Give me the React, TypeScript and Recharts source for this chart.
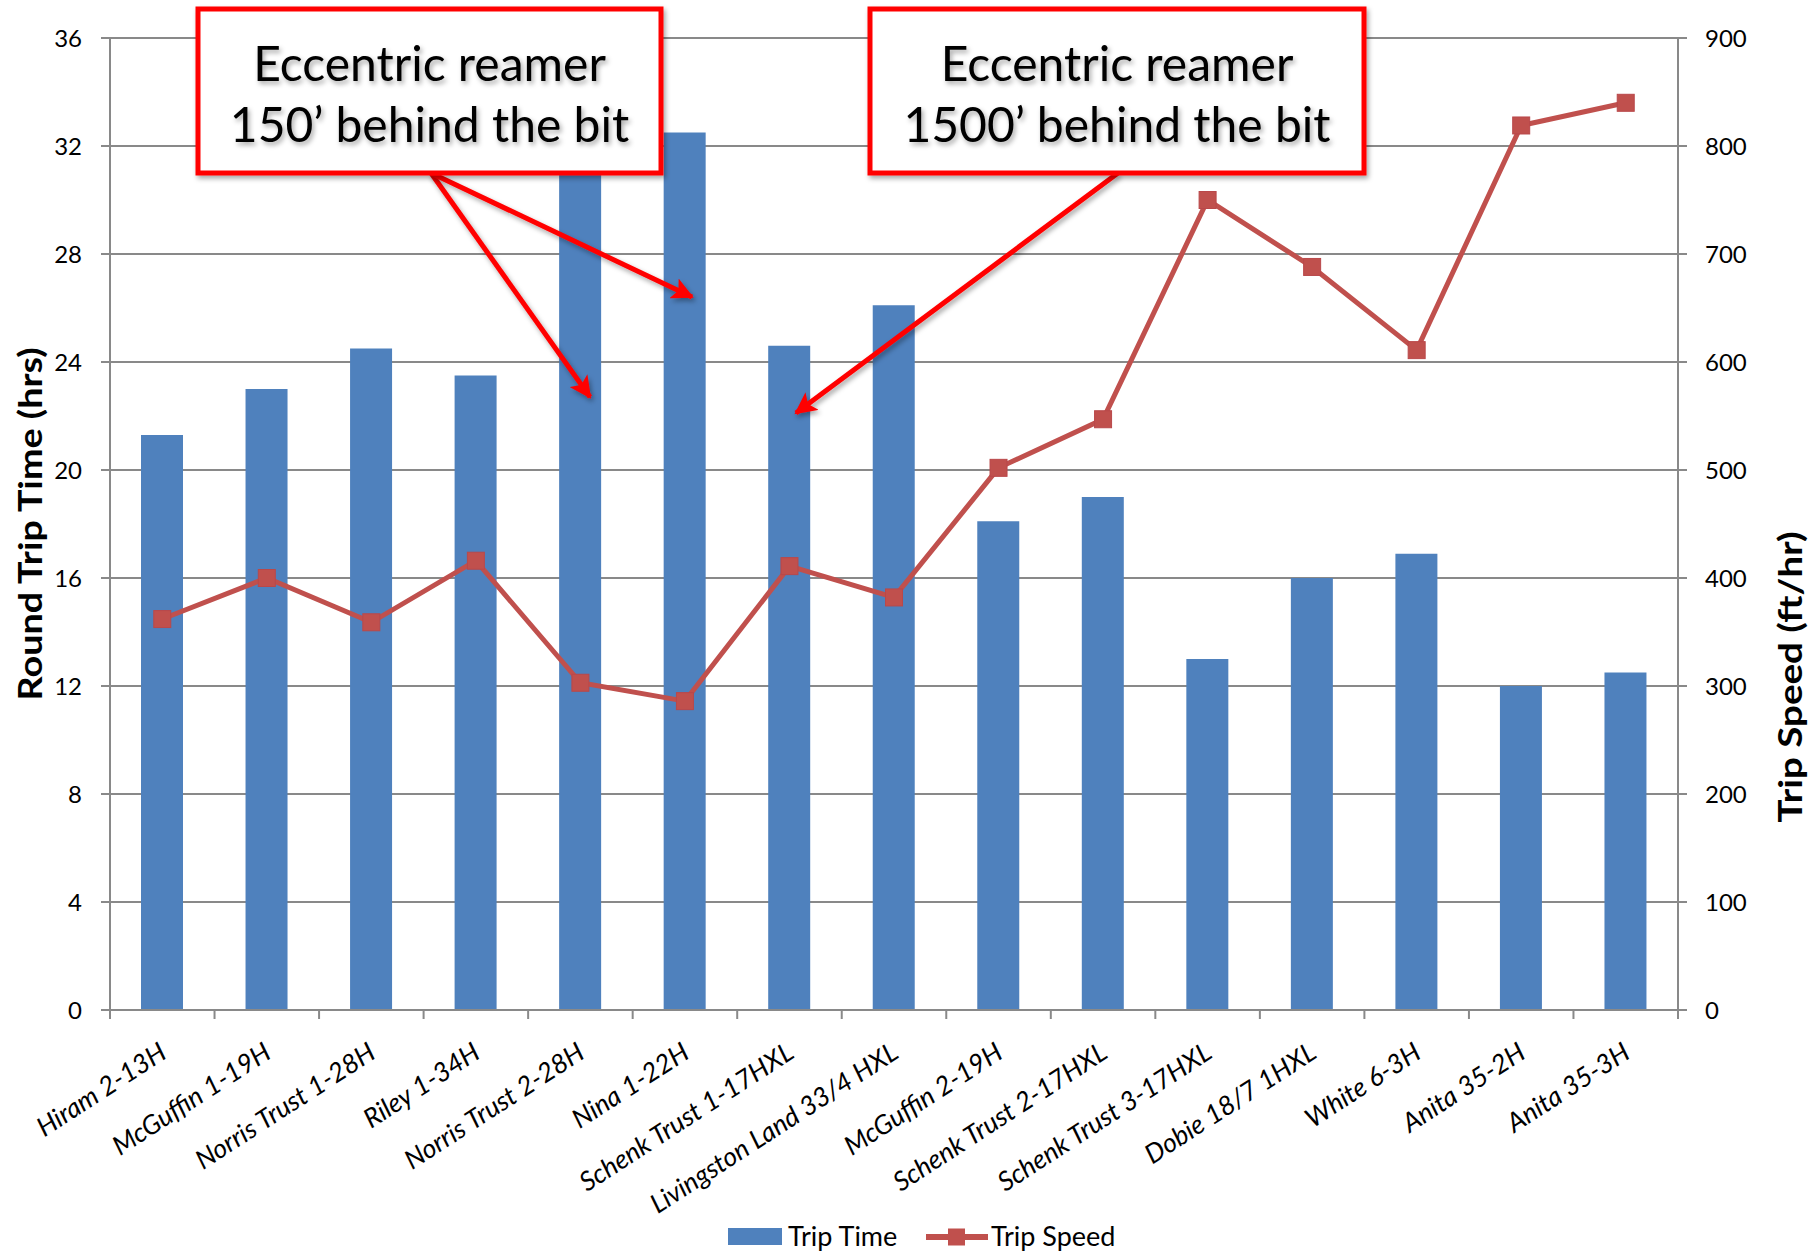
import React from 'react';
import {
  ComposedChart,
  Bar,
  Line,
  XAxis,
  YAxis,
  CartesianGrid,
  Legend
} from 'recharts';

// Well names along the category axis
const wells = [
  'Hiram 2-13H',
  'McGuffin 1-19H',
  'Norris Trust 1-28H',
  'Riley 1-34H',
  'Norris Trust 2-28H',
  'Nina 1-22H',
  'Schenk Trust 1-17HXL',
  'Livingston Land 33/4 HXL',
  'McGuffin 2-19H',
  'Schenk Trust 2-17HXL',
  'Schenk Trust 3-17HXL',
  'Dobie 18/7 1HXL',
  'White 6-3H',
  'Anita 35-2H',
  'Anita 35-3H'
];

// Round trip time, hours
const tripTime = [21.3, 23.0, 24.5, 23.5, 32.2, 32.5, 24.6, 26.1, 18.1, 19.0, 13.0, 16.0, 16.9, 12.0, 12.5];

// Trip speed, ft/hr
const tripSpeed = [362, 400, 359, 416, 303, 286, 411, 382, 502, 547, 750, 688, 611, 819, 840];

const timeTicks = [0, 4, 8, 12, 16, 20, 24, 28, 32, 36];
const speedTicks = [0, 100, 200, 300, 400, 500, 600, 700, 800, 900];

const data = wells.map((name, i) => ({ name, time: tripTime[i], speed: tripSpeed[i] }));

const W = 1817;
const H = 1251;
const TOP = 38;
const LEFT_W = 110;
const RIGHT_W = 139;
const PLOT_H = 972;
const LEGEND_H = 40;
const BAND = (W - LEFT_W - RIGHT_W) / wells.length;

const BLUE = '#4F81BD';
const RED = '#C0504D';
const AXIS = '#898989';
const FONT = 'Lato, "Open Sans", sans-serif';

const XTick = (props: any) => {
  const { x, y, payload, index } = props;
  const ax = x + 6;
  const ay = y + 47;
  return (
    <g>
      <line x1={x - BAND / 2} y1={y} x2={x - BAND / 2} y2={y + 9} stroke={AXIS} strokeWidth={2} />
      {index === wells.length - 1 && (
        <line x1={x + BAND / 2} y1={y} x2={x + BAND / 2} y2={y + 9} stroke={AXIS} strokeWidth={2} />
      )}
      <text
        x={ax}
        y={ay}
        textAnchor="end"
        transform={`rotate(-33 ${ax} ${ay})`}
        fontFamily={FONT}
        fontStyle="italic"
        fontSize={26.5}
        fill="#000"
      >
        {payload.value}
      </text>
    </g>
  );
};

const SquareDot = (props: any) => {
  const { cx, cy } = props;
  if (cx == null || cy == null) return null;
  return <rect x={cx - 8.5} y={cy - 8.5} width={17} height={17} fill={RED} stroke="#B9484A" strokeWidth={1} />;
};

const AxisTitle = ({ viewBox, text, dx, dy, length }: any) => {
  const cx = viewBox.x + dx;
  const cy = viewBox.y + dy;
  return (
    <text
      x={cx}
      y={cy}
      transform={`rotate(-90 ${cx} ${cy})`}
      textAnchor="middle"
      dominantBaseline="central"
      fontFamily={FONT}
      fontWeight={700}
      fontSize={33}
      textLength={length}
      lengthAdjust="spacingAndGlyphs"
      fill="#000"
    >
      {text}
    </text>
  );
};

const renderLegend = () => (
  <div style={{ position: 'relative', width: W, height: LEGEND_H, fontFamily: FONT, fontSize: 27 }}>
    <div style={{ position: 'absolute', left: 728, top: 17, width: 54, height: 17, background: BLUE }} />
    <span style={{ position: 'absolute', left: 788, top: 9, lineHeight: '32px' }}>Trip Time</span>
    <svg style={{ position: 'absolute', left: 926, top: 14 }} width={62} height={24}>
      <line x1={0} y1={12} x2={62} y2={12} stroke={RED} strokeWidth={6} />
      <rect x={22} y={3.5} width={17} height={17} fill={RED} />
    </svg>
    <span style={{ position: 'absolute', left: 991, top: 9, lineHeight: '32px' }}>Trip Speed</span>
  </div>
);

// Callout boxes and arrows drawn over the plot
const callouts = [
  { x: 198, y: 9, w: 463, h: 164, lines: ['Eccentric reamer', '150\u2019 behind the bit'] },
  { x: 870, y: 9, w: 494, h: 164, lines: ['Eccentric reamer', '1500\u2019 behind the bit'] }
];
const arrows = [
  { x1: 431, y1: 173, x2: 590, y2: 397 },
  { x1: 431, y1: 173, x2: 692, y2: 297 },
  { x1: 1118, y1: 173, x2: 796, y2: 413 }
];

const Overlay = () => (
  <svg width={W} height={H} style={{ position: 'absolute', left: 0, top: 0, pointerEvents: 'none' }}>
    <defs>
      <filter id="soft" x="-20%" y="-20%" width="140%" height="140%">
        <feDropShadow dx={2} dy={3} stdDeviation={2.5} floodColor="#000" floodOpacity={0.35} />
      </filter>
      <marker id="head" markerUnits="userSpaceOnUse" markerWidth={24} markerHeight={22} refX={20} refY={11} orient="auto">
        <path d="M0,0 L22,11 L0,22 L5,11 Z" fill="#FF0000" />
      </marker>
    </defs>
    {arrows.map((a, i) => (
      <line
        key={i}
        x1={a.x1}
        y1={a.y1}
        x2={a.x2}
        y2={a.y2}
        stroke="#FF0000"
        strokeWidth={5}
        markerEnd="url(#head)"
        filter="url(#soft)"
      />
    ))}
    {callouts.map((c, i) => (
      <g key={i}>
        <rect x={c.x} y={c.y} width={c.w} height={c.h} fill="#fff" stroke="#FF0000" strokeWidth={5} filter="url(#soft)" />
        {c.lines.map((t, j) => (
          <text
            key={j}
            x={c.x + c.w / 2}
            y={c.y + 72 + j * 61}
            textAnchor="middle"
            fontFamily={FONT}
            fontSize={48}
            fill="#000"
            filter="url(#soft)"
          >
            {t}
          </text>
        ))}
      </g>
    ))}
  </svg>
);

export default function App() {
  return (
    <div style={{ position: 'absolute', left: 0, top: 0, width: W, height: H, background: '#fff' }}>
      <ComposedChart
        width={W}
        height={H}
        data={data}
        margin={{ top: TOP, right: 0, bottom: 0, left: 0 }}
      >
        <CartesianGrid yAxisId="left" vertical={false} stroke={AXIS} strokeWidth={2} />
        <XAxis
          dataKey="name"
          interval={0}
          height={H - TOP - PLOT_H - LEGEND_H}
          axisLine={{ stroke: AXIS, strokeWidth: 2 }}
          tickLine={false}
          tickSize={0}
          tickMargin={0}
          tick={<XTick />}
        />
        <YAxis
          yAxisId="left"
          width={LEFT_W}
          domain={[0, 36]}
          ticks={timeTicks}
          interval={0}
          axisLine={{ stroke: AXIS, strokeWidth: 2 }}
          tickLine={{ stroke: AXIS, strokeWidth: 2 }}
          tickSize={9}
          tickMargin={19}
          tick={{ fill: '#000', fontSize: 24, fontFamily: FONT }}
          label={<AxisTitle text="Round Trip Time (hrs)" dx={29} dy={PLOT_H / 2} length={353} />}
        />
        <YAxis
          yAxisId="right"
          orientation="right"
          width={RIGHT_W}
          domain={[0, 900]}
          ticks={speedTicks}
          interval={0}
          axisLine={{ stroke: AXIS, strokeWidth: 2 }}
          tickLine={{ stroke: AXIS, strokeWidth: 2 }}
          tickSize={9}
          tickMargin={18}
          tick={{ fill: '#000', fontSize: 24, fontFamily: FONT }}
          label={<AxisTitle text="Trip Speed (ft/hr)" dx={111} dy={639} length={291} />}
        />
        <Legend verticalAlign="bottom" content={renderLegend} />
        <Bar yAxisId="left" dataKey="time" name="Trip Time" fill={BLUE} barSize={42} isAnimationActive={false} />
        <Line
          yAxisId="right"
          dataKey="speed"
          name="Trip Speed"
          type="linear"
          stroke={RED}
          strokeWidth={5}
          dot={<SquareDot />}
          activeDot={false}
          isAnimationActive={false}
        />
      </ComposedChart>
      <Overlay />
    </div>
  );
}
